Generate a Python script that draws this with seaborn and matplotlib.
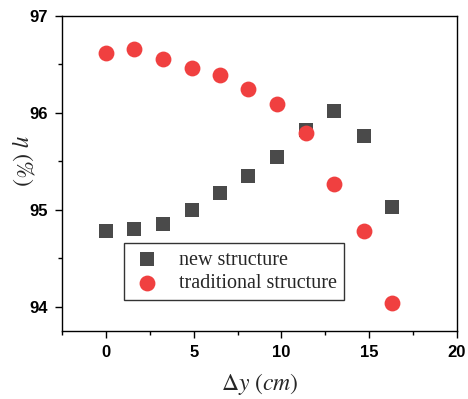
import matplotlib
matplotlib.use("Agg")
import matplotlib.pyplot as plt
import seaborn as sns
import pandas as pd
from matplotlib.ticker import MultipleLocator

dy = [0, 1.6, 3.25, 4.9, 6.5, 8.1, 9.75, 11.4, 13.0, 14.7, 16.3]
eta_new = [94.78, 94.80, 94.85, 95.00, 95.17, 95.35, 95.54, 95.82, 96.02, 95.76, 95.03]
eta_trad = [96.62, 96.66, 96.56, 96.46, 96.39, 96.25, 96.09, 95.79, 95.27, 94.78, 94.04]
series = ["new structure", "traditional structure"]

df = pd.DataFrame({
    "dy": dy + dy,
    "eta": eta_new + eta_trad,
    "series": [series[0]] * len(dy) + [series[1]] * len(dy),
})

sns.set_style("ticks")
plt.rcParams["mathtext.fontset"] = "stix"

fig = plt.figure(figsize=(4.68, 3.99), dpi=100)
ax = fig.add_axes([0.1325, 0.1704, 0.844, 0.7896])

sns.scatterplot(data=df[df.series == series[0]], x="dy", y="eta", ax=ax,
                color="#4a4a4a", marker="s", s=95, linewidth=0, label=series[0])
sns.scatterplot(data=df[df.series == series[1]], x="dy", y="eta", ax=ax,
                color="#f04040", marker="o", s=130, linewidth=0, label=series[1])

ax.set_xlim(-2.5, 20)
ax.set_ylim(93.75, 97)
ax.xaxis.set_major_locator(MultipleLocator(5))
ax.xaxis.set_minor_locator(MultipleLocator(2.5))
ax.yaxis.set_major_locator(MultipleLocator(1))
ax.yaxis.set_minor_locator(MultipleLocator(0.5))
ax.tick_params(which="major", direction="out", length=5, width=1, colors="black", pad=5)
ax.tick_params(which="minor", direction="out", length=3, width=1, colors="black")
for lab in ax.get_xticklabels() + ax.get_yticklabels():
    lab.set_fontweight("bold")
    lab.set_fontsize(12)
    lab.set_family("Liberation Sans")

for sp in ax.spines.values():
    sp.set_visible(True)
    sp.set_color("black")
    sp.set_linewidth(1)

ax.set_xlabel(r"$\Delta y\ (cm)$", fontsize=17, labelpad=8)
ax.set_ylabel(r"$\eta$ (%)", fontsize=17, family="STIXGeneral", rotation=270, va="center")
ax.yaxis.set_label_coords(-0.101, 0.54)

leg = ax.legend(loc="lower left", bbox_to_anchor=(0.157, 0.098), frameon=True,
                fancybox=False, prop={"family": "Liberation Serif", "size": 14.5},
                borderpad=0.35, handletextpad=0.8, labelspacing=0.22, borderaxespad=0,
                handlelength=1.6)
leg.get_frame().set_edgecolor("black")
leg.get_frame().set_linewidth(1)

fig.savefig("out.png", dpi=100)
